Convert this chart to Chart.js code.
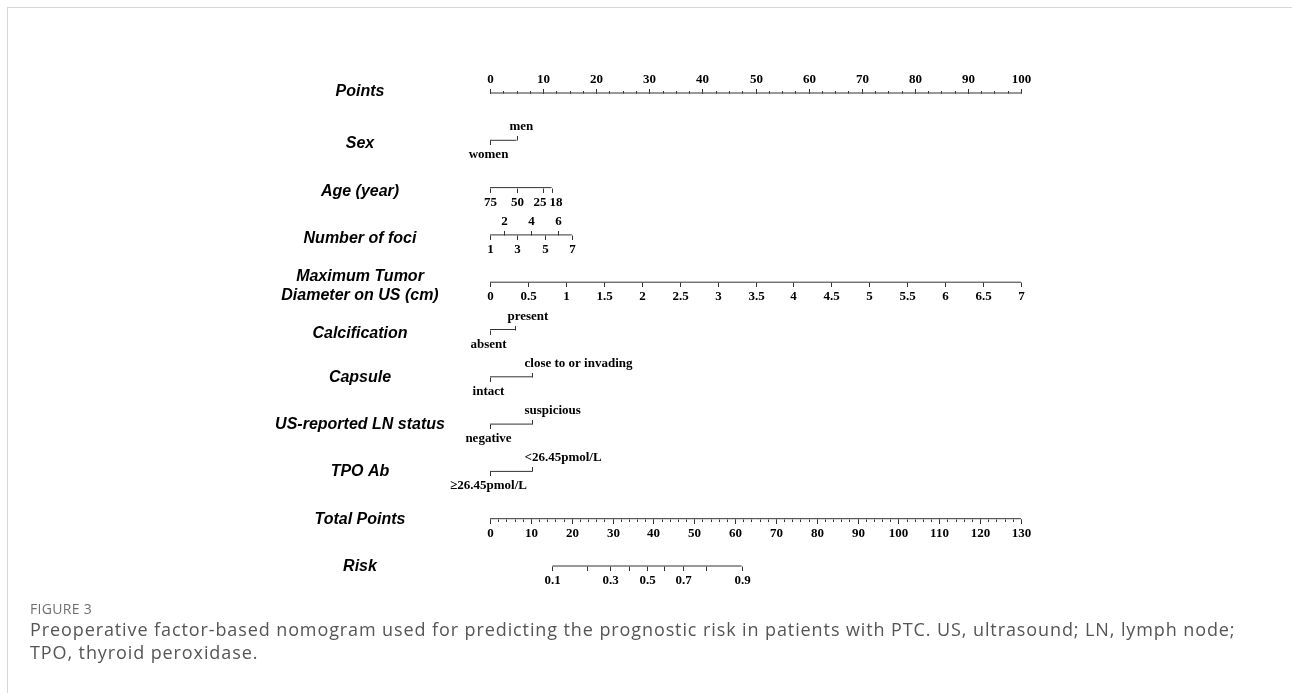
<!DOCTYPE html>
<html>
<head>
<meta charset="utf-8">
<script src="https://cdn.jsdelivr.net/npm/chart.js@4/dist/chart.umd.min.js"></script>
<style>
html,body{margin:0;padding:0;background:#fff;width:1292px;height:693px;overflow:hidden;}
#frame{position:absolute;left:7px;top:7px;width:1290px;height:690px;border-left:1px solid #d6d6d6;border-top:1px solid #d6d6d6;}
#wrap{position:absolute;left:0;top:0;width:1292px;height:600px;}
#cap1{position:absolute;left:30px;top:599px;font-family:'Open Sans',sans-serif;font-size:14px;color:#707070;line-height:20px;letter-spacing:0.3px;}
#cap2{position:absolute;left:30px;top:618px;font-family:'Open Sans',sans-serif;font-size:18px;color:#555;line-height:23px;width:1260px;letter-spacing:0.9px;}
</style>
</head>
<body>
<div id="frame"></div>
<div id="wrap"><canvas id="c" width="1292" height="600"></canvas></div>
<div id="cap1">FIGURE 3</div>
<div id="cap2">Preoperative factor-based nomogram used for predicting the prognostic risk in patients with PTC. US, ultrasound; LN, lymph node;<br>TPO, thyroid peroxidase.</div>
<script>
// ---------- data ----------
const rowTitles = ['Points','Sex','Age (year)','Number of foci',['Maximum Tumor','Diameter on US (cm)'],
  'Calcification','Capsule','US-reported LN status','TPO Ab','Total Points','Risk'];

const pointsLabels = ['0','10','20','30','40','50','60','70','80','90','100'];
const pointsValues = [0,10,20,30,40,50,60,70,80,90,100];

const sexLabels = ['women','men'];
const sexPoints = [0,5];

const ageLabels = ['75','50','25','18'];
const agePoints = [0,5.0,10.0,11.6];

const fociLabels = ['1','2','3','4','5','6','7'];
const fociPoints = [0,2.6,5.1,7.7,10.3,12.8,15.4];

const tumorLabels = ['0','0.5','1','1.5','2','2.5','3','3.5','4','4.5','5','5.5','6','6.5','7'];
const tumorPoints = [0,7.1,14.3,21.4,28.6,35.7,42.9,50,57.1,64.3,71.4,78.6,85.7,92.9,100];

const calcLabels = ['absent','present'];
const calcPoints = [0,4.8];

const capsuleLabels = ['intact','close to or invading'];
const capsulePoints = [0,8];

const lnLabels = ['negative','suspicious'];
const lnPoints = [0,8];

const tpoLabels = ['\u226526.45pmol/L','<26.45pmol/L'];
const tpoPoints = [0,8];

const totalLabels = ['0','10','20','30','40','50','60','70','80','90','100','110','120','130'];
const totalValues = [0,10,20,30,40,50,60,70,80,90,100,110,120,130];

const riskLabels = ['0.1','','0.3','','0.5','','0.7','','0.9'];
const riskTotalPoints = [15.3,23.8,29.5,34.1,38.4,42.7,47.3,53.0,61.6];

// ---------- row definitions (built from the arrays) ----------
// side: +1 label below / tick down, -1 label above / tick up
const rows = [
  {vals: pointsValues, labels: pointsLabels, axis:'x', side: () => -1, minorStep: 2.5, align:'center'},
  {vals: sexPoints, labels: sexLabels, axis:'x', side: i => i===0 ? 1 : -1, align:'binary'},
  {vals: agePoints, labels: ageLabels, axis:'x', side: () => 1, align:'center'},
  {vals: fociPoints, labels: fociLabels, axis:'x', side: i => i%2===0 ? 1 : -1, align:'center'},
  {vals: tumorPoints, labels: tumorLabels, axis:'x', side: () => 1, align:'center'},
  {vals: calcPoints, labels: calcLabels, axis:'x', side: i => i===0 ? 1 : -1, align:'binary'},
  {vals: capsulePoints, labels: capsuleLabels, axis:'x', side: i => i===0 ? 1 : -1, align:'binary'},
  {vals: lnPoints, labels: lnLabels, axis:'x', side: i => i===0 ? 1 : -1, align:'binary'},
  {vals: tpoPoints, labels: tpoLabels, axis:'x', side: i => i===0 ? 1 : -1, align:'binary'},
  {vals: totalValues, labels: totalLabels, axis:'x2', side: () => 1, minorStep: 2, align:'center'},
  {vals: riskTotalPoints, labels: riskLabels, axis:'x2', side: () => 1, align:'center'}
];

const lineColor = '#333';
const datasets = rows.map((r, idx) => ({
  data: [{x: r.vals[0], y: idx}, {x: r.vals[r.vals.length-1], y: idx}],
  xAxisID: r.axis,
  borderColor: lineColor,
  borderWidth: 1,
  pointRadius: 0,
  fill: false,
  clip: false
}));

const nomogramPlugin = {
  id: 'nomogram',
  afterDatasetsDraw(chart) {
    const ctx = chart.ctx;
    const ys = chart.scales.y;
    ctx.save();
    rows.forEach((r, idx) => {
      const xs = chart.scales[r.axis];
      const yy = Math.round(ys.getPixelForValue(idx)) + 0.5;
      ctx.strokeStyle = lineColor;
      ctx.lineWidth = 1;
      // minor ticks
      if (r.minorStep) {
        const last = r.vals[r.vals.length-1];
        const s = r.side(0);
        for (let v = r.vals[0]; v <= last + 1e-9; v += r.minorStep) {
          const px = Math.round(xs.getPixelForValue(v)) + 0.5;
          ctx.beginPath(); ctx.moveTo(px, yy); ctx.lineTo(px, yy + s*2.5); ctx.stroke();
        }
      }
      // major ticks
      ctx.font = 'bold 13px "Liberation Serif", "Times New Roman", serif';
      ctx.fillStyle = '#000';
      ctx.textBaseline = 'middle';
      const placed = [];
      r.vals.forEach((v, i) => {
        const s = r.side(i);
        const px = Math.round(xs.getPixelForValue(v)) + 0.5;
        ctx.beginPath(); ctx.moveTo(px, yy); ctx.lineTo(px, yy + s*4.5); ctx.stroke();
        const lab = r.labels[i];
        if (!lab) return;
        const w = ctx.measureText(lab).width;
        let cx;
        if (r.align === 'binary' && s < 0) cx = px - 8 + w/2;
        else if (r.align === 'binary') cx = px - 2;
        else cx = px;
        placed.push({lab, cx, w, s});
      });
      // nudge overlapping labels apart (same side)
      [1,-1].forEach(side => {
        const L = placed.filter(p => p.s === side);
        for (let k = 1; k < L.length; k++) {
          const a = L[k-1], b = L[k];
          const need = (a.w + b.w)/2 + 3;
          const have = b.cx - a.cx;
          if (have < need) { const d = (need - have)/2; a.cx -= d; b.cx += d; }
        }
      });
      ctx.textAlign = 'center';
      placed.forEach(p => {
        const ly = p.s > 0 ? yy + 14 : yy - 13.5;
        ctx.fillText(p.lab, p.cx, ly);
      });
      // row title
      ctx.font = 'italic bold 16px "Liberation Sans", Arial, sans-serif';
      ctx.textAlign = 'center';
      const t = rowTitles[idx];
      let off = 0;
      if (idx === 0) off = -2; else if (idx <= 5) off = 3; else off = 0;
      if (Array.isArray(t)) {
        ctx.fillText(t[0], 360, yy - 6);
        ctx.fillText(t[1], 360, yy + 13);
      } else {
        ctx.fillText(t, 360, yy + off);
      }
    });
    ctx.restore();
  }
};

new Chart(document.getElementById('c'), {
  type: 'line',
  data: { datasets },
  options: {
    responsive: false,
    animation: false,
    events: [],
    layout: { padding: { left: 490, right: 271, top: 93, bottom: 34 } },
    plugins: { legend: { display: false }, tooltip: { enabled: false }, title: { display: false } },
    scales: {
      x: { type: 'linear', min: 0, max: 100, display: false },
      x2: { type: 'linear', axis: 'x', min: 0, max: 130, display: false },
      y: { type: 'linear', min: 0, max: 10, reverse: true, display: false }
    }
  },
  plugins: [nomogramPlugin]
});
</script>
</body>
</html>
